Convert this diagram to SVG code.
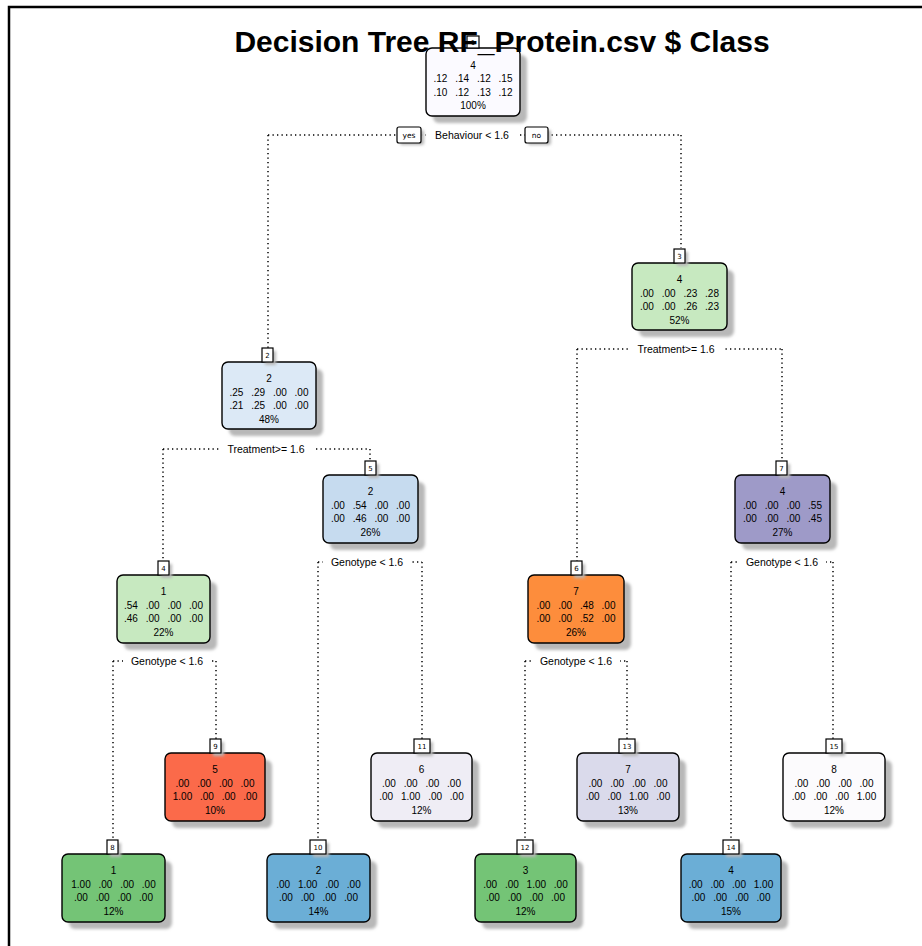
<svg xmlns="http://www.w3.org/2000/svg" width="922" height="946" viewBox="0 0 922 946">
<defs>
<filter id="blur" x="-20%" y="-20%" width="140%" height="140%"><feGaussianBlur stdDeviation="1.6"/></filter>
<style>
.frame{stroke:#000;stroke-width:2.5;fill:none}
.title{font-family:"Liberation Sans",Arial,sans-serif;font-weight:bold;font-size:30px;fill:#000}
.sh{fill:#b8b8b8;filter:url(#blur)}
.box{stroke:#000;stroke-width:1.4}
.tag{fill:#fff;stroke:#000;stroke-width:1.2}
.tagt{font-family:"DejaVu Sans",sans-serif;font-size:7px;fill:#000;text-anchor:middle}
.t{font-family:"Liberation Sans",Arial,sans-serif;font-size:10px;fill:#000;text-anchor:middle;word-spacing:5px}
.dot{stroke:#000;stroke-width:1.5;stroke-dasharray:1.3 3.2;fill:none}
.lbl{font-family:"Liberation Sans",Arial,sans-serif;font-size:10.5px;fill:#000;text-anchor:middle}
.yn{font-family:"DejaVu Sans",sans-serif;font-size:7.5px;fill:#000;text-anchor:middle}
.bg{fill:#fff}
</style>
</defs>
<rect width="922" height="946" fill="#fff"/>
<path class="frame" d="M9,946 V7 H922"/>

<g id="connectors">
<path class="dot" d="M268,135 H681 M268,135 V348 M681,135 V248"/>
<rect class="bg" x="426" y="128" width="94" height="14"/>
<text class="lbl" x="472" y="139">Behaviour &lt; 1.6</text>
<rect class="sh" x="400" y="130" width="24" height="15" rx="2"/>
<rect class="tag" x="397" y="127" width="24" height="16" rx="2"/>
<text class="yn" x="409" y="138">yes</text>
<rect class="sh" x="528" y="130" width="23" height="15" rx="2"/>
<rect class="tag" x="525" y="127" width="23" height="16" rx="2"/>
<text class="yn" x="536.5" y="138">no</text>
<path class="dot" d="M163,449 H370 M163,449 V561 M370,449 V461"/>
<rect class="bg" x="220" y="443" width="94" height="13"/>
<text class="lbl" x="266" y="453">Treatment&gt;= 1.6</text>
<path class="dot" d="M577,349 H782 M577,349 V561 M782,349 V461"/>
<rect class="bg" x="630" y="343" width="94" height="13"/>
<text class="lbl" x="676" y="353">Treatment&gt;= 1.6</text>
<path class="dot" d="M113,661 H216 M113,661 V840 M216,661 V739"/>
<rect class="bg" x="123" y="655" width="88" height="13"/>
<text class="lbl" x="167" y="665">Genotype &lt; 1.6</text>
<path class="dot" d="M318,562 H422 M318,562 V840 M422,562 V739"/>
<rect class="bg" x="323" y="556" width="88" height="13"/>
<text class="lbl" x="367" y="566">Genotype &lt; 1.6</text>
<path class="dot" d="M525,661 H627 M525,661 V840 M627,661 V739"/>
<rect class="bg" x="532" y="655" width="88" height="13"/>
<text class="lbl" x="576" y="665">Genotype &lt; 1.6</text>
<path class="dot" d="M731,562 H833 M731,562 V840 M833,562 V739"/>
<rect class="bg" x="738" y="556" width="88" height="13"/>
<text class="lbl" x="782" y="566">Genotype &lt; 1.6</text>
</g>

<g id="node1">
<rect class="sh" x="433" y="55" width="94" height="68" rx="6"/>
<rect class="box" x="426" y="48" width="94" height="68" rx="6" fill="#fbfaff"/>
<rect class="tag" x="467" y="36" width="12" height="12"/>
<text class="tagt" x="473" y="45">1</text>
<text class="t" x="473" y="69">4</text>
<text class="t" x="473" y="82">.12 .14 .12 .15</text>
<text class="t" x="473" y="96">.10 .12 .13 .12</text>
<text class="t" x="473" y="109">100%</text>
</g>

<text class="title" x="502" y="52" text-anchor="middle">Decision Tree RF_Protein.csv $ Class</text>

<g id="node2">
<rect class="sh" x="229" y="369" width="94" height="67" rx="6"/>
<rect class="box" x="222" y="362" width="94" height="67" rx="6" fill="#dce9f6"/>
<rect class="sh" x="265" y="351" width="11" height="14"/>
<rect class="tag" x="262" y="348" width="11" height="14"/>
<text class="tagt" x="267.5" y="358">2</text>
<text class="t" x="269" y="382">2</text>
<text class="t" x="269" y="396">.25 .29 .00 .00</text>
<text class="t" x="269" y="409">.21 .25 .00 .00</text>
<text class="t" x="269" y="423">48%</text>
</g>

<g id="node3">
<rect class="sh" x="639" y="270" width="95" height="67" rx="6"/>
<rect class="box" x="632" y="263" width="95" height="67" rx="6" fill="#c7e9c0"/>
<rect class="sh" x="677" y="252" width="11" height="14"/>
<rect class="tag" x="674" y="249" width="11" height="14"/>
<text class="tagt" x="679.5" y="259">3</text>
<text class="t" x="679.5" y="283">4</text>
<text class="t" x="679.5" y="297">.00 .00 .23 .28</text>
<text class="t" x="679.5" y="310">.00 .00 .26 .23</text>
<text class="t" x="679.5" y="324">52%</text>
</g>

<g id="node4">
<rect class="sh" x="124" y="582" width="93" height="68" rx="6"/>
<rect class="box" x="117" y="575" width="93" height="68" rx="6" fill="#c7e9c0"/>
<rect class="sh" x="161" y="564" width="11" height="14"/>
<rect class="tag" x="158" y="561" width="11" height="14"/>
<text class="tagt" x="163.5" y="571">4</text>
<text class="t" x="163.5" y="595">1</text>
<text class="t" x="163.5" y="609">.54 .00 .00 .00</text>
<text class="t" x="163.5" y="622">.46 .00 .00 .00</text>
<text class="t" x="163.5" y="636">22%</text>
</g>

<g id="node5">
<rect class="sh" x="330" y="482" width="95" height="68" rx="6"/>
<rect class="box" x="323" y="475" width="95" height="68" rx="6" fill="#c6dbef"/>
<rect class="sh" x="368" y="464" width="11" height="14"/>
<rect class="tag" x="365" y="461" width="11" height="14"/>
<text class="tagt" x="370.5" y="471">5</text>
<text class="t" x="370.5" y="495">2</text>
<text class="t" x="370.5" y="509">.00 .54 .00 .00</text>
<text class="t" x="370.5" y="522">.00 .46 .00 .00</text>
<text class="t" x="370.5" y="536">26%</text>
</g>

<g id="node6">
<rect class="sh" x="535" y="582" width="96" height="68" rx="6"/>
<rect class="box" x="528" y="575" width="96" height="68" rx="6" fill="#fd8d3c"/>
<rect class="sh" x="574" y="564" width="11" height="14"/>
<rect class="tag" x="571" y="561" width="11" height="14"/>
<text class="tagt" x="576.5" y="571">6</text>
<text class="t" x="576" y="595">7</text>
<text class="t" x="576" y="609">.00 .00 .48 .00</text>
<text class="t" x="576" y="622">.00 .00 .52 .00</text>
<text class="t" x="576" y="636">26%</text>
</g>

<g id="node7">
<rect class="sh" x="742" y="482" width="95" height="68" rx="6"/>
<rect class="box" x="735" y="475" width="95" height="68" rx="6" fill="#9e9ac8"/>
<rect class="sh" x="779" y="464" width="11" height="14"/>
<rect class="tag" x="776" y="461" width="11" height="14"/>
<text class="tagt" x="781.5" y="471">7</text>
<text class="t" x="782.5" y="495">4</text>
<text class="t" x="782.5" y="509">.00 .00 .00 .55</text>
<text class="t" x="782.5" y="522">.00 .00 .00 .45</text>
<text class="t" x="782.5" y="536">27%</text>
</g>

<g id="node8">
<rect class="sh" x="69" y="861" width="103" height="68" rx="6"/>
<rect class="box" x="62" y="854" width="103" height="68" rx="6" fill="#74c476"/>
<rect class="sh" x="110" y="843" width="11" height="14"/>
<rect class="tag" x="107" y="840" width="11" height="14"/>
<text class="tagt" x="112.5" y="850">8</text>
<text class="t" x="113.5" y="874">1</text>
<text class="t" x="113.5" y="888">1.00 .00 .00 .00</text>
<text class="t" x="113.5" y="901">.00 .00 .00 .00</text>
<text class="t" x="113.5" y="915">12%</text>
</g>

<g id="node9">
<rect class="sh" x="172" y="760" width="100" height="68" rx="6"/>
<rect class="box" x="165" y="753" width="100" height="68" rx="6" fill="#fb6a4a"/>
<rect class="sh" x="213" y="742" width="11" height="14"/>
<rect class="tag" x="210" y="739" width="11" height="14"/>
<text class="tagt" x="215.5" y="749">9</text>
<text class="t" x="215" y="773">5</text>
<text class="t" x="215" y="787">.00 .00 .00 .00</text>
<text class="t" x="215" y="800">1.00 .00 .00 .00</text>
<text class="t" x="215" y="814">10%</text>
</g>

<g id="node10">
<rect class="sh" x="274" y="861" width="103" height="68" rx="6"/>
<rect class="box" x="267" y="854" width="103" height="68" rx="6" fill="#6baed6"/>
<rect class="sh" x="313" y="843" width="16" height="14"/>
<rect class="tag" x="310" y="840" width="16" height="14"/>
<text class="tagt" x="318" y="850">10</text>
<text class="t" x="318.5" y="874">2</text>
<text class="t" x="318.5" y="888">.00 1.00 .00 .00</text>
<text class="t" x="318.5" y="901">.00 .00 .00 .00</text>
<text class="t" x="318.5" y="915">14%</text>
</g>

<g id="node11">
<rect class="sh" x="378" y="760" width="101" height="68" rx="6"/>
<rect class="box" x="371" y="753" width="101" height="68" rx="6" fill="#efedf5"/>
<rect class="sh" x="417" y="742" width="16" height="14"/>
<rect class="tag" x="414" y="739" width="16" height="14"/>
<text class="tagt" x="422" y="749">11</text>
<text class="t" x="421.5" y="773">6</text>
<text class="t" x="421.5" y="787">.00 .00 .00 .00</text>
<text class="t" x="421.5" y="800">.00 1.00 .00 .00</text>
<text class="t" x="421.5" y="814">12%</text>
</g>

<g id="node12">
<rect class="sh" x="482" y="861" width="101" height="68" rx="6"/>
<rect class="box" x="475" y="854" width="101" height="68" rx="6" fill="#74c476"/>
<rect class="sh" x="520" y="843" width="16" height="14"/>
<rect class="tag" x="517" y="840" width="16" height="14"/>
<text class="tagt" x="525" y="850">12</text>
<text class="t" x="525.5" y="874">3</text>
<text class="t" x="525.5" y="888">.00 .00 1.00 .00</text>
<text class="t" x="525.5" y="901">.00 .00 .00 .00</text>
<text class="t" x="525.5" y="915">12%</text>
</g>

<g id="node13">
<rect class="sh" x="584" y="760" width="102" height="68" rx="6"/>
<rect class="box" x="577" y="753" width="102" height="68" rx="6" fill="#dadaeb"/>
<rect class="sh" x="622" y="742" width="16" height="14"/>
<rect class="tag" x="619" y="739" width="16" height="14"/>
<text class="tagt" x="627" y="749">13</text>
<text class="t" x="628" y="773">7</text>
<text class="t" x="628" y="787">.00 .00 .00 .00</text>
<text class="t" x="628" y="800">.00 .00 1.00 .00</text>
<text class="t" x="628" y="814">13%</text>
</g>

<g id="node14">
<rect class="sh" x="688" y="861" width="100" height="68" rx="6"/>
<rect class="box" x="681" y="854" width="100" height="68" rx="6" fill="#6baed6"/>
<rect class="sh" x="726" y="843" width="16" height="14"/>
<rect class="tag" x="723" y="840" width="16" height="14"/>
<text class="tagt" x="731" y="850">14</text>
<text class="t" x="731" y="874">4</text>
<text class="t" x="731" y="888">.00 .00 .00 1.00</text>
<text class="t" x="731" y="901">.00 .00 .00 .00</text>
<text class="t" x="731" y="915">15%</text>
</g>

<g id="node15">
<rect class="sh" x="790" y="760" width="102" height="68" rx="6"/>
<rect class="box" x="783" y="753" width="102" height="68" rx="6" fill="#fcfbfd"/>
<rect class="sh" x="829" y="742" width="16" height="14"/>
<rect class="tag" x="826" y="739" width="16" height="14"/>
<text class="tagt" x="834" y="749">15</text>
<text class="t" x="834" y="773">8</text>
<text class="t" x="834" y="787">.00 .00 .00 .00</text>
<text class="t" x="834" y="800">.00 .00 .00 1.00</text>
<text class="t" x="834" y="814">12%</text>
</g>
</svg>
